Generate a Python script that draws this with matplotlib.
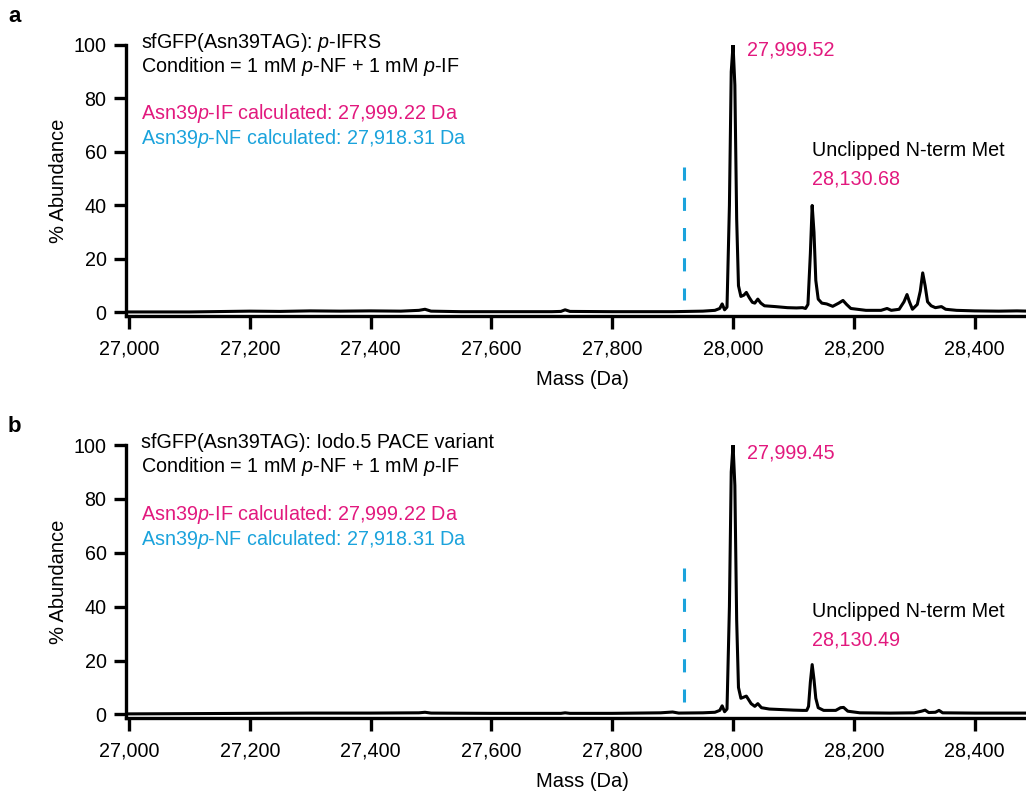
import numpy as np
import matplotlib
matplotlib.use("Agg")
import matplotlib.pyplot as plt
from matplotlib.ticker import FuncFormatter

plt.rcParams['font.family'] = ['Liberation Sans', 'DejaVu Sans']
plt.rcParams['mathtext.fontset'] = 'custom'
plt.rcParams['mathtext.rm'] = 'Liberation Sans'
plt.rcParams['mathtext.it'] = 'Liberation Sans:italic'

MAGENTA = '#e2197e'
CYAN = '#1ba3dc'

# ---- spectrum a (sfGFP p-IFRS) ----
mass_a = [26995, 27100, 27200, 27250, 27300, 27350, 27400, 27450, 27480, 27490,
          27500, 27550, 27600, 27700, 27715, 27722, 27730, 27800, 27900, 27950,
          27970, 27978, 27982, 27986, 27990, 27994, 27997, 28000, 28003, 28006,
          28009, 28013, 28018, 28022, 28027, 28032, 28036, 28041, 28046, 28052,
          28070, 28090, 28105, 28115, 28120, 28124, 28128, 28131, 28134, 28137,
          28141, 28147, 28155, 28165, 28175, 28182, 28188, 28195, 28220, 28245,
          28255, 28262, 28275, 28283, 28288, 28292, 28297, 28305, 28310, 28314,
          28318, 28322, 28328, 28335, 28345, 28352, 28370, 28400, 28440, 28470, 28490]
abund_a = [0.2, 0.2, 0.5, 0.4, 0.6, 0.5, 0.6, 0.5, 0.8, 1.2,
           0.5, 0.3, 0.3, 0.3, 0.4, 1.0, 0.4, 0.3, 0.3, 0.5,
           0.8, 1.5, 3.2, 1.0, 2.0, 40, 90, 100, 85, 35,
           10, 6, 6.5, 7.5, 5.5, 3.8, 3.5, 5, 3.5, 2.5,
           2.2, 1.8, 1.7, 1.8, 1.5, 3, 22, 40, 30, 12,
           5, 3.5, 3.2, 2.3, 3.5, 4.5, 3, 1.5, 0.8, 0.8,
           1.5, 0.8, 1.2, 4, 6.7, 4, 1.2, 3, 8, 14.8,
           10, 4, 2.5, 1.8, 2.2, 1.2, 0.8, 0.6, 0.5, 0.6, 0.5]

# ---- spectrum b (Iodo.5 PACE variant) ----
mass_b = [26995, 27100, 27200, 27300, 27400, 27480, 27490, 27500, 27600, 27715,
          27722, 27730, 27800, 27880, 27900, 27910, 27950, 27970, 27978, 27982,
          27986, 27990, 27994, 27997, 28000, 28003, 28006, 28009, 28013, 28022,
          28030, 28036, 28041, 28047, 28060, 28080, 28100, 28115, 28122, 28125,
          28128, 28131, 28134, 28137, 28141, 28150, 28170, 28178, 28183, 28190,
          28210, 28260, 28300, 28312, 28318, 28324, 28335, 28341, 28347, 28400, 28490]
abund_b = [0.2, 0.3, 0.4, 0.5, 0.5, 0.6, 0.8, 0.5, 0.4, 0.4,
           0.6, 0.4, 0.4, 0.6, 0.9, 0.5, 0.6, 0.8, 1.5, 3.2,
           1.0, 2.0, 40, 90, 100, 85, 35, 10, 6, 6.8,
           4, 3, 4, 2.5, 2, 1.8, 1.6, 1.5, 1.5, 3,
           12, 18.5, 13, 6, 2.5, 1.5, 1.5, 2.5, 2.6, 1.2,
           0.6, 0.5, 0.6, 1.2, 1.6, 0.7, 0.8, 1.5, 0.6, 0.5, 0.5]

xticks = [27000, 27200, 27400, 27600, 27800, 28000, 28200, 28400]
yticks = [0, 20, 40, 60, 80, 100]
nf_calc = 27918.31

panels = [
    dict(letter='a', mass=mass_a, abund=abund_a,
         title='sfGFP(Asn39TAG): $p$-IFRS',
         main_label='27,999.52', met_label='28,130.68',
         main_y=96, met_y=(58.6, 48.0)),
    dict(letter='b', mass=mass_b, abund=abund_b,
         title='sfGFP(Asn39TAG): Iodo.5 PACE variant',
         main_label='27,999.45', met_label='28,130.49',
         main_y=95, met_y=(36.2, 25.6)),
]

FS = 14.2

fig = plt.figure(figsize=(10.26, 7.93), dpi=100)
rects = [[0.1228, 0.6019, 0.8772, 0.3414], [0.1228, 0.0950, 0.8772, 0.3438]]

for p, r in zip(panels, rects):
    ax = fig.add_axes(r)
    ax.plot(p['mass'], p['abund'], color='black', lw=2.2, solid_joinstyle='round')
    ln, = ax.plot([nf_calc, nf_calc], [54.5, 4.8], color=CYAN, lw=2.2)
    ln.set_dashes((4.3, 5.6))
    ax.set_xlim(26995, 28485)
    ax.set_ylim(-1.2, 100)
    ax.set_xticks(xticks)
    ax.set_yticks(yticks)
    ax.xaxis.set_major_formatter(FuncFormatter(lambda v, _: f'{int(v):,}'))
    for s in ['top', 'right']:
        ax.spines[s].set_visible(False)
    for s in ['left', 'bottom']:
        ax.spines[s].set_linewidth(2.4)
    ax.tick_params(width=2.4, length=9, labelsize=FS)
    ax.tick_params(axis='x', pad=8)
    ax.tick_params(axis='y', pad=5)
    ax.set_ylabel('% Abundance', fontsize=14.5)
    ax.yaxis.set_label_coords(-0.0644, 0.5)
    ax.set_xlabel('Mass (Da)', fontsize=14.5)
    ax.xaxis.set_label_coords(0.507, -0.2)

    tx = 27020
    ax.text(tx, 99, p['title'], fontsize=FS, va='baseline')
    ax.text(tx, 90, 'Condition = 1 mM $p$-NF + 1 mM $p$-IF', fontsize=FS, va='baseline')
    ax.text(tx, 72.2, 'Asn39$p$-IF calculated: 27,999.22 Da', fontsize=FS,
            va='baseline', color=MAGENTA)
    ax.text(tx, 63, 'Asn39$p$-NF calculated: 27,918.31 Da', fontsize=FS,
            va='baseline', color=CYAN)
    ax.text(28023, p['main_y'], p['main_label'], fontsize=FS, va='baseline', color=MAGENTA)
    ax.text(28131, p['met_y'][0], 'Unclipped N-term Met', fontsize=FS, va='baseline')
    ax.text(28131, p['met_y'][1], p['met_label'], fontsize=FS, va='baseline', color=MAGENTA)

    fig.text(8 / 1026, 1 - (17 if p['letter'] == 'a' else 427) / 793, p['letter'],
             fontsize=16, fontweight='bold', va='center', ha='left')

fig.savefig('out.png', dpi=100)
